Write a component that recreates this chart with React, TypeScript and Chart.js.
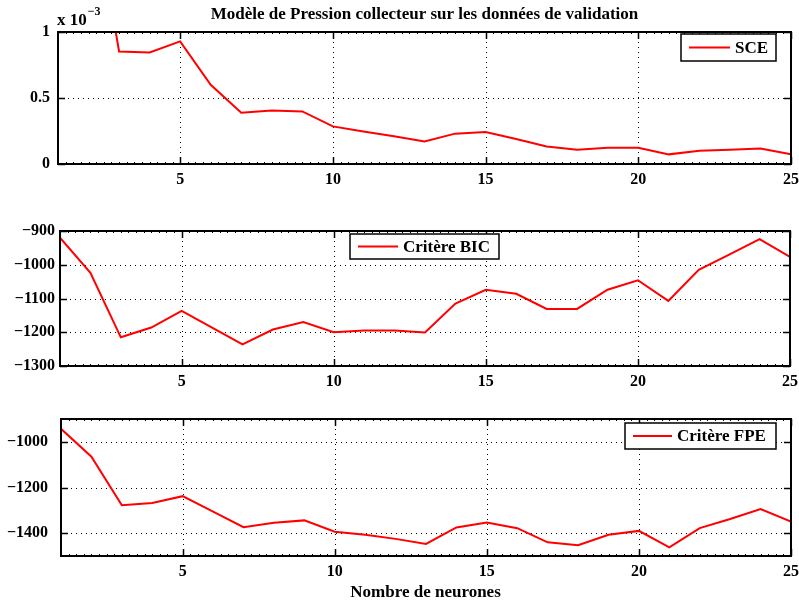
import React, { useEffect, useRef } from "react";
import { Chart, registerables } from "chart.js";

Chart.register(...registerables);

// ---------- data ----------
const neurones = [1, 2, 3, 4, 5, 6, 7, 8, 9, 10, 11, 12, 13, 14, 15, 16, 17, 18, 19, 20, 21, 22, 23, 24, 25];
// SCE in units of 1e-3
const sceValues = [4.0, 2.2, 0.853, 0.845, 0.929, 0.6, 0.389, 0.406, 0.398, 0.285, 0.247, 0.21, 0.171, 0.23, 0.242, 0.19, 0.133, 0.108, 0.123, 0.123, 0.073, 0.1, 0.108, 0.118, 0.073];
const bicValues = [-920, -1024, -1215, -1186, -1137, -1186, -1236, -1192, -1170, -1200, -1195, -1195, -1201, -1115, -1074, -1086, -1131, -1131, -1074, -1046, -1107, -1015, -970, -924, -977];
const fpeValues = [-943, -1065, -1278, -1268, -1238, -1306, -1374, -1354, -1344, -1394, -1407, -1425, -1447, -1375, -1353, -1378, -1440, -1453, -1407, -1390, -1462, -1378, -1338, -1294, -1349];

const xTicks = [5, 10, 15, 20, 25];
const sceTicks = [0, 0.5, 1];
const bicTicks = [-1300, -1200, -1100, -1000, -900];
const fpeTicks = [-1400, -1200, -1000];

const titleText = "Modèle de Pression collecteur sur les données de validation";
const xLabelText = "Nombre de neurones";
const sceLabel = "SCE";
const bicLabel = "Critère BIC";
const fpeLabel = "Critère FPE";
const exponentBase = "x 10";
const exponentPower = "−3";

// ---------- styling ----------
const FONT = "'Liberation Serif', 'Times New Roman', serif";
const W = 799;

type Box = { x: number; y: number; w: number; h: number };
type PanelProps = {
  top: number;
  height: number;
  left: number;
  right: number;
  areaTop: number;
  areaBottom: number;
  yPad: number;
  values: number[];
  yMin: number;
  yMax: number;
  yTicks: number[];
  legendText: string;
  legendBox: Box;
  legendLine: [number, number];
  legendTextX: number;
  extra?: (ctx: CanvasRenderingContext2D, chart: any) => void;
};

function fmt(v: number) {
  return String(v).replace("-", "\u2212");
}

function Panel(p: PanelProps) {
  const ref = useRef<HTMLCanvasElement | null>(null);
  useEffect(() => {
    if (!ref.current) return;
    const frame = {
      id: "matlabFrame",
      beforeDatasetsDraw(chart: any) {
        const { ctx, chartArea: a, scales } = chart;
        ctx.save();
        ctx.strokeStyle = "#000";
        ctx.lineWidth = 1;
        ctx.setLineDash([1, 4]);
        for (const v of xTicks) {
          const x = Math.round(scales.x.getPixelForValue(v)) + 0.5;
          if (x < a.right - 2) {
            ctx.beginPath();
            ctx.moveTo(x, a.top);
            ctx.lineTo(x, a.bottom);
            ctx.stroke();
          }
        }
        for (const v of p.yTicks) {
          const y = Math.round(scales.y.getPixelForValue(v)) + 0.5;
          if (y > a.top + 2 && y < a.bottom - 2) {
            ctx.beginPath();
            ctx.moveTo(a.left, y);
            ctx.lineTo(a.right, y);
            ctx.stroke();
          }
        }
        ctx.restore();
      },
      afterDatasetsDraw(chart: any) {
        const { ctx, chartArea: a, scales } = chart;
        ctx.save();
        ctx.strokeStyle = "#000";
        ctx.setLineDash([]);
        // minor ticks on x
        ctx.lineWidth = 1;
        for (let v = 1; v <= 25.001; v += 0.25) {
          const x = Math.round(scales.x.getPixelForValue(v)) + 0.5;
          ctx.beginPath();
          ctx.moveTo(x, a.bottom);
          ctx.lineTo(x, a.bottom - 2);
          ctx.moveTo(x, a.top);
          ctx.lineTo(x, a.top + 2);
          ctx.stroke();
        }
        // major ticks
        ctx.lineWidth = 1.5;
        for (const v of xTicks) {
          const x = Math.round(scales.x.getPixelForValue(v)) + 0.5;
          ctx.beginPath();
          ctx.moveTo(x, a.bottom);
          ctx.lineTo(x, a.bottom - 7);
          ctx.moveTo(x, a.top);
          ctx.lineTo(x, a.top + 7);
          ctx.stroke();
        }
        for (const v of p.yTicks) {
          const y = Math.round(scales.y.getPixelForValue(v)) + 0.5;
          ctx.beginPath();
          ctx.moveTo(a.left, y);
          ctx.lineTo(a.left + 7, y);
          ctx.moveTo(a.right, y);
          ctx.lineTo(a.right - 7, y);
          ctx.stroke();
        }
        // frame
        ctx.lineWidth = 2;
        ctx.strokeRect(a.left, a.top, a.right - a.left, a.bottom - a.top);
        // legend
        const b = p.legendBox;
        ctx.fillStyle = "#fff";
        ctx.fillRect(b.x, b.y, b.w, b.h);
        ctx.lineWidth = 1.5;
        ctx.strokeRect(b.x, b.y, b.w, b.h);
        const cy = b.y + b.h / 2;
        ctx.strokeStyle = "#ff0000";
        ctx.lineWidth = 2;
        ctx.beginPath();
        ctx.moveTo(p.legendLine[0], cy);
        ctx.lineTo(p.legendLine[1], cy);
        ctx.stroke();
        ctx.fillStyle = "#000";
        ctx.font = `bold 17px ${FONT}`;
        ctx.textBaseline = "middle";
        ctx.textAlign = "left";
        ctx.fillText(p.legendText, p.legendTextX, cy + 1);
        if (p.extra) p.extra(ctx, chart);
        ctx.restore();
      },
    };

    const chart = new Chart(ref.current, {
      type: "line",
      data: {
        datasets: [
          {
            data: neurones.map((x, i) => ({ x, y: p.values[i] })),
            borderColor: "#ff0000",
            borderWidth: 2,
            pointRadius: 0,
            tension: 0,
            fill: false,
          },
        ],
      },
      options: {
        animation: false,
        responsive: false,
        devicePixelRatio: 1,
        layout: { padding: { top: p.areaTop, right: W - p.right, left: 0, bottom: 0 } },
        plugins: {
          legend: { display: false },
          tooltip: { enabled: false },
          title: { display: false },
        },
        scales: {
          x: {
            type: "linear",
            min: 1,
            max: 25,
            grid: { display: false, drawTicks: false },
            border: { display: false },
            afterBuildTicks: (s: any) => {
              s.ticks = xTicks.map((v) => ({ value: v }));
            },
            afterFit: (s: any) => {
              s.height = p.height - p.areaBottom;
              s.paddingLeft = 0;
              s.paddingRight = 0;
            },
            ticks: {
              color: "#000",
              font: { family: FONT, size: 16, weight: "bold" },
              padding: 6,
              maxRotation: 0,
              autoSkip: false,
            },
          },
          y: {
            type: "linear",
            min: p.yMin,
            max: p.yMax,
            grid: { display: false, drawTicks: false },
            border: { display: false },
            afterBuildTicks: (s: any) => {
              s.ticks = p.yTicks.map((v) => ({ value: v }));
            },
            afterFit: (s: any) => {
              s.width = p.left;
              s.paddingTop = 0;
              s.paddingBottom = 0;
            },
            ticks: {
              color: "#000",
              font: { family: FONT, size: 16, weight: "bold" },
              padding: p.yPad,
              autoSkip: false,
              callback: (v: any) => fmt(Number(v)),
            },
          },
        },
      },
      plugins: [frame],
    } as any);
    return () => chart.destroy();
  }, []);
  return (
    <canvas
      ref={ref}
      width={W}
      height={p.height}
      style={{ position: "absolute", left: 0, top: p.top, width: W, height: p.height, display: "block" }}
    />
  );
}

export default function App() {
  return (
    <div style={{ position: "absolute", left: 0, top: 0, width: W, height: 601, background: "#fff", overflow: "hidden" }}>
      <Panel
        top={0}
        height={190}
        left={58}
        right={791}
        areaTop={32}
        areaBottom={164}
        yPad={8}
        values={sceValues}
        yMin={0}
        yMax={1}
        yTicks={sceTicks}
        legendText={sceLabel}
        legendBox={{ x: 681, y: 34, w: 95, h: 27 }}
        legendLine={[689, 730]}
        legendTextX={735}
        extra={(ctx) => {
          ctx.fillStyle = "#000";
          ctx.textBaseline = "alphabetic";
          ctx.textAlign = "center";
          ctx.font = `bold 17px ${FONT}`;
          ctx.fillText(titleText, 424.5, 18.5);
          ctx.textAlign = "left";
          ctx.font = `bold 17px ${FONT}`;
          ctx.fillText(exponentBase, 57, 25);
          const w = ctx.measureText(exponentBase).width;
          ctx.font = `bold 12px ${FONT}`;
          ctx.fillText(exponentPower, 57 + w + 1, 15);
        }}
      />
      <Panel
        top={190}
        height={200}
        left={60}
        right={790}
        areaTop={41}
        areaBottom={176}
        yPad={5}
        values={bicValues}
        yMin={-1300}
        yMax={-900}
        yTicks={bicTicks}
        legendText={bicLabel}
        legendBox={{ x: 350, y: 44, w: 149, h: 25 }}
        legendLine={[358, 398]}
        legendTextX={403}
      />
      <Panel
        top={390}
        height={211}
        left={61}
        right={791}
        areaTop={29}
        areaBottom={166}
        yPad={13}
        values={fpeValues}
        yMin={-1500}
        yMax={-900}
        yTicks={fpeTicks}
        legendText={fpeLabel}
        legendBox={{ x: 625, y: 33, w: 151, h: 26 }}
        legendLine={[633, 672]}
        legendTextX={677}
        extra={(ctx) => {
          ctx.fillStyle = "#000";
          ctx.textBaseline = "alphabetic";
          ctx.textAlign = "center";
          ctx.font = `bold 17px ${FONT}`;
          ctx.fillText(xLabelText, 425.5, 207);
        }}
      />
    </div>
  );
}
